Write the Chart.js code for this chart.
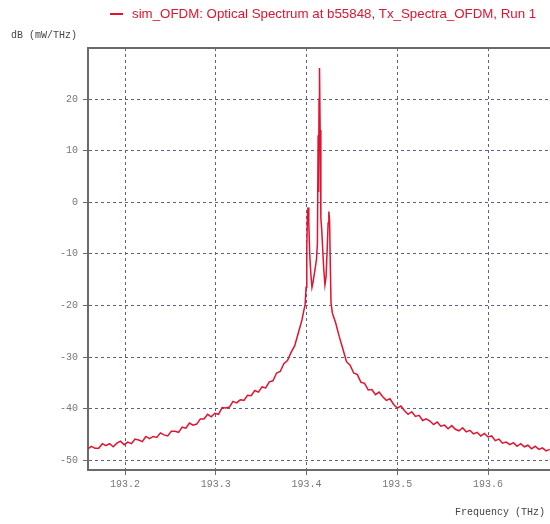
<!DOCTYPE html>
<html>
<head>
<meta charset="utf-8">
<script src="https://cdn.jsdelivr.net/npm/chart.js@4/dist/chart.umd.min.js"></script>
<style>
  html, body { margin: 0; padding: 0; background: #fff; }
  #wrap { width: 550px; height: 524px; }
</style>
</head>
<body>
<div id="wrap"><canvas id="spectrumChart" width="550" height="524"></canvas></div>
<script>
// frequency (THz) and power (dB, mW/THz)
const leftWingFreq = [
  193.159, 193.163, 193.167, 193.171, 193.175, 193.179, 193.183, 193.187, 193.191, 193.195,
  193.199, 193.203, 193.207, 193.211, 193.215, 193.219, 193.223, 193.227, 193.231, 193.235,
  193.239, 193.243, 193.247, 193.251, 193.255, 193.259, 193.263, 193.267, 193.271, 193.275,
  193.279, 193.283, 193.287, 193.291, 193.295, 193.299, 193.303, 193.307, 193.311, 193.315,
  193.319, 193.323, 193.327, 193.331, 193.335, 193.339, 193.343, 193.347, 193.351, 193.355,
  193.359, 193.363, 193.367, 193.371, 193.375, 193.379, 193.383, 193.387, 193.391, 193.395
];
const leftWingDb = [
  -47.8, -47.3, -47.7, -47.7, -46.8, -47.2, -46.8, -47.4, -46.7, -46.3,
  -47.0, -46.5, -46.8, -45.9, -46.1, -46.4, -45.4, -45.8, -45.4, -45.6,
  -44.7, -45.1, -45.3, -44.4, -44.4, -44.6, -43.6, -43.8, -42.8, -43.2,
  -43.0, -42.0, -42.0, -41.1, -41.6, -40.9, -41.1, -39.8, -39.9, -39.7,
  -38.6, -38.9, -38.3, -38.4, -37.4, -37.5, -36.5, -36.8, -35.8, -36.0,
  -34.8, -34.6, -33.1, -32.8, -31.3, -30.7, -29.1, -27.8, -25.3, -22.8
];
const peakFreq = [
  193.3970, 193.3985, 193.3995, 193.4003, 193.4010, 193.4017, 193.4025, 193.4035, 193.4048, 193.4060,
  193.4072, 193.4085, 193.4098, 193.4110, 193.4120, 193.4128, 193.4133, 193.4138, 193.4143, 193.4150,
  193.4158, 193.4168, 193.4178, 193.4190, 193.4203, 193.4215, 193.4228, 193.4238, 193.4246, 193.4254,
  193.4262, 193.4270, 193.4285, 193.4300
];
const peakDb = [
  -21.0, -19.8, -16.5, -9.0, -2.5, -1.0, -4.0, -10.0, -14.0, -16.5,
  -15.5, -14.0, -12.5, -11.0, -8.0, 13.0, 2.0, 20.0, 26.0, 14.0,
  -3.0, -5.5, -9.0, -13.0, -16.0, -14.5, -9.0, -4.0, -1.8, -3.5,
  -12.0, -19.5, -21.5, -22.3
];
const rightWingFreq = [
  193.432, 193.436, 193.440, 193.444, 193.448, 193.452, 193.456, 193.460, 193.464, 193.468,
  193.472, 193.476, 193.480, 193.484, 193.488, 193.492, 193.496, 193.500, 193.504, 193.508,
  193.512, 193.516, 193.520, 193.524, 193.528, 193.532, 193.536, 193.540, 193.544, 193.548,
  193.552, 193.556, 193.560, 193.564, 193.568, 193.572, 193.576, 193.580, 193.584, 193.588,
  193.592, 193.596, 193.600, 193.604, 193.608, 193.612, 193.616, 193.620, 193.624, 193.628,
  193.632, 193.636, 193.640, 193.644, 193.648, 193.652, 193.656, 193.660, 193.664, 193.668
];
const rightWingDb = [
  -23.3, -26.0, -28.4, -30.9, -31.6, -33.1, -33.4, -34.9, -35.1, -36.4,
  -36.3, -37.3, -36.8, -37.7, -38.4, -38.1, -39.2, -39.9, -39.5, -40.4,
  -41.1, -40.6, -41.5, -41.3, -42.3, -42.0, -42.4, -43.1, -42.6, -43.4,
  -43.2, -43.9, -43.3, -44.0, -44.3, -43.7, -44.5, -44.2, -44.9, -44.6,
  -45.3, -44.8, -45.5, -45.3, -46.2, -45.9, -46.7, -46.5, -47.0, -46.6,
  -47.3, -46.8, -47.4, -47.1, -47.8, -47.3, -47.9, -47.6, -48.2, -47.9
];
const xTicks = [193.2, 193.3, 193.4, 193.5, 193.6];
const yTicks = [-50, -40, -30, -20, -10, 0, 10, 20];

const seriesLabel = "sim_OFDM: Optical Spectrum at b55848, Tx_Spectra_OFDM, Run 1";
const freq = leftWingFreq.concat(peakFreq, rightWingFreq);
const power = leftWingDb.concat(peakDb, rightWingDb);

const RED = "#e3122e";
const GRID = "#5e5e92";
const AXIS = "#6a6a6a";
const TICK_FONT = { family: "'Liberation Mono', 'DejaVu Sans Mono', monospace", size: 10 };

// titles, legend line and the top frame line
const decorations = {
  id: "decorations",
  afterDraw(chart) {
    const { ctx, chartArea } = chart;
    ctx.save();
    ctx.strokeStyle = AXIS;
    ctx.lineWidth = 2;
    ctx.beginPath();
    ctx.moveTo(chartArea.left - 1, chartArea.top);
    ctx.lineTo(chartArea.right, chartArea.top);
    ctx.stroke();

    ctx.strokeStyle = RED;
    ctx.lineWidth = 2;
    ctx.beginPath();
    ctx.moveTo(110, 14);
    ctx.lineTo(123, 14);
    ctx.stroke();

    ctx.fillStyle = RED;
    ctx.font = "13.3px 'Liberation Sans', Arial, sans-serif";
    ctx.textBaseline = "middle";
    ctx.textAlign = "left";
    ctx.fillText(seriesLabel, 132, 14);

    ctx.fillStyle = "#444";
    ctx.font = "10px 'Liberation Mono', 'DejaVu Sans Mono', monospace";
    ctx.fillText("dB (mW/THz)", 11, 35);
    ctx.textAlign = "right";
    ctx.fillText("Frequency (THz)", 545, 512);
    ctx.restore();
  }
};

new Chart(document.getElementById("spectrumChart").getContext("2d"), {
  type: "line",
  data: {
    datasets: [
      {
        label: seriesLabel,
        data: freq.map((f, i) => ({ x: f, y: power[i] })),
        borderColor: RED,
        borderWidth: 1.5,
        pointRadius: 0,
        tension: 0,
        fill: false,
      },
    ],
  },
  options: {
    responsive: false,
    animation: false,
    layout: { padding: { top: 48, left: 0, right: 0, bottom: 0 } },
    plugins: {
      legend: { display: false },
      tooltip: { enabled: false },
    },
    scales: {
      x: {
        type: "linear",
        min: 193.1592,
        max: 193.6683,
        afterFit: (scale) => { scale.height = 54; },
        afterBuildTicks: (scale) => { scale.ticks = xTicks.map((v) => ({ value: v })); },
        ticks: {
          color: "#777",
          font: TICK_FONT,
          padding: 3,
          maxRotation: 0,
          callback: (v) => v.toFixed(1),
        },
        grid: { color: GRID, lineWidth: 1, tickLength: 5, tickColor: AXIS },
        border: { display: true, color: AXIS, width: 2, dash: [3, 3] },
      },
      y: {
        min: -51.9,
        max: 29.9,
        afterFit: (scale) => { scale.width = 88; },
        afterBuildTicks: (scale) => { scale.ticks = yTicks.map((v) => ({ value: v })); },
        ticks: {
          color: "#777",
          font: TICK_FONT,
          padding: 5,
          callback: (v) => String(v),
        },
        grid: { color: GRID, lineWidth: 1, tickLength: 5, tickColor: AXIS },
        border: { display: true, color: AXIS, width: 2, dash: [3, 3] },
      },
    },
  },
  plugins: [decorations],
});
</script>
</body>
</html>
